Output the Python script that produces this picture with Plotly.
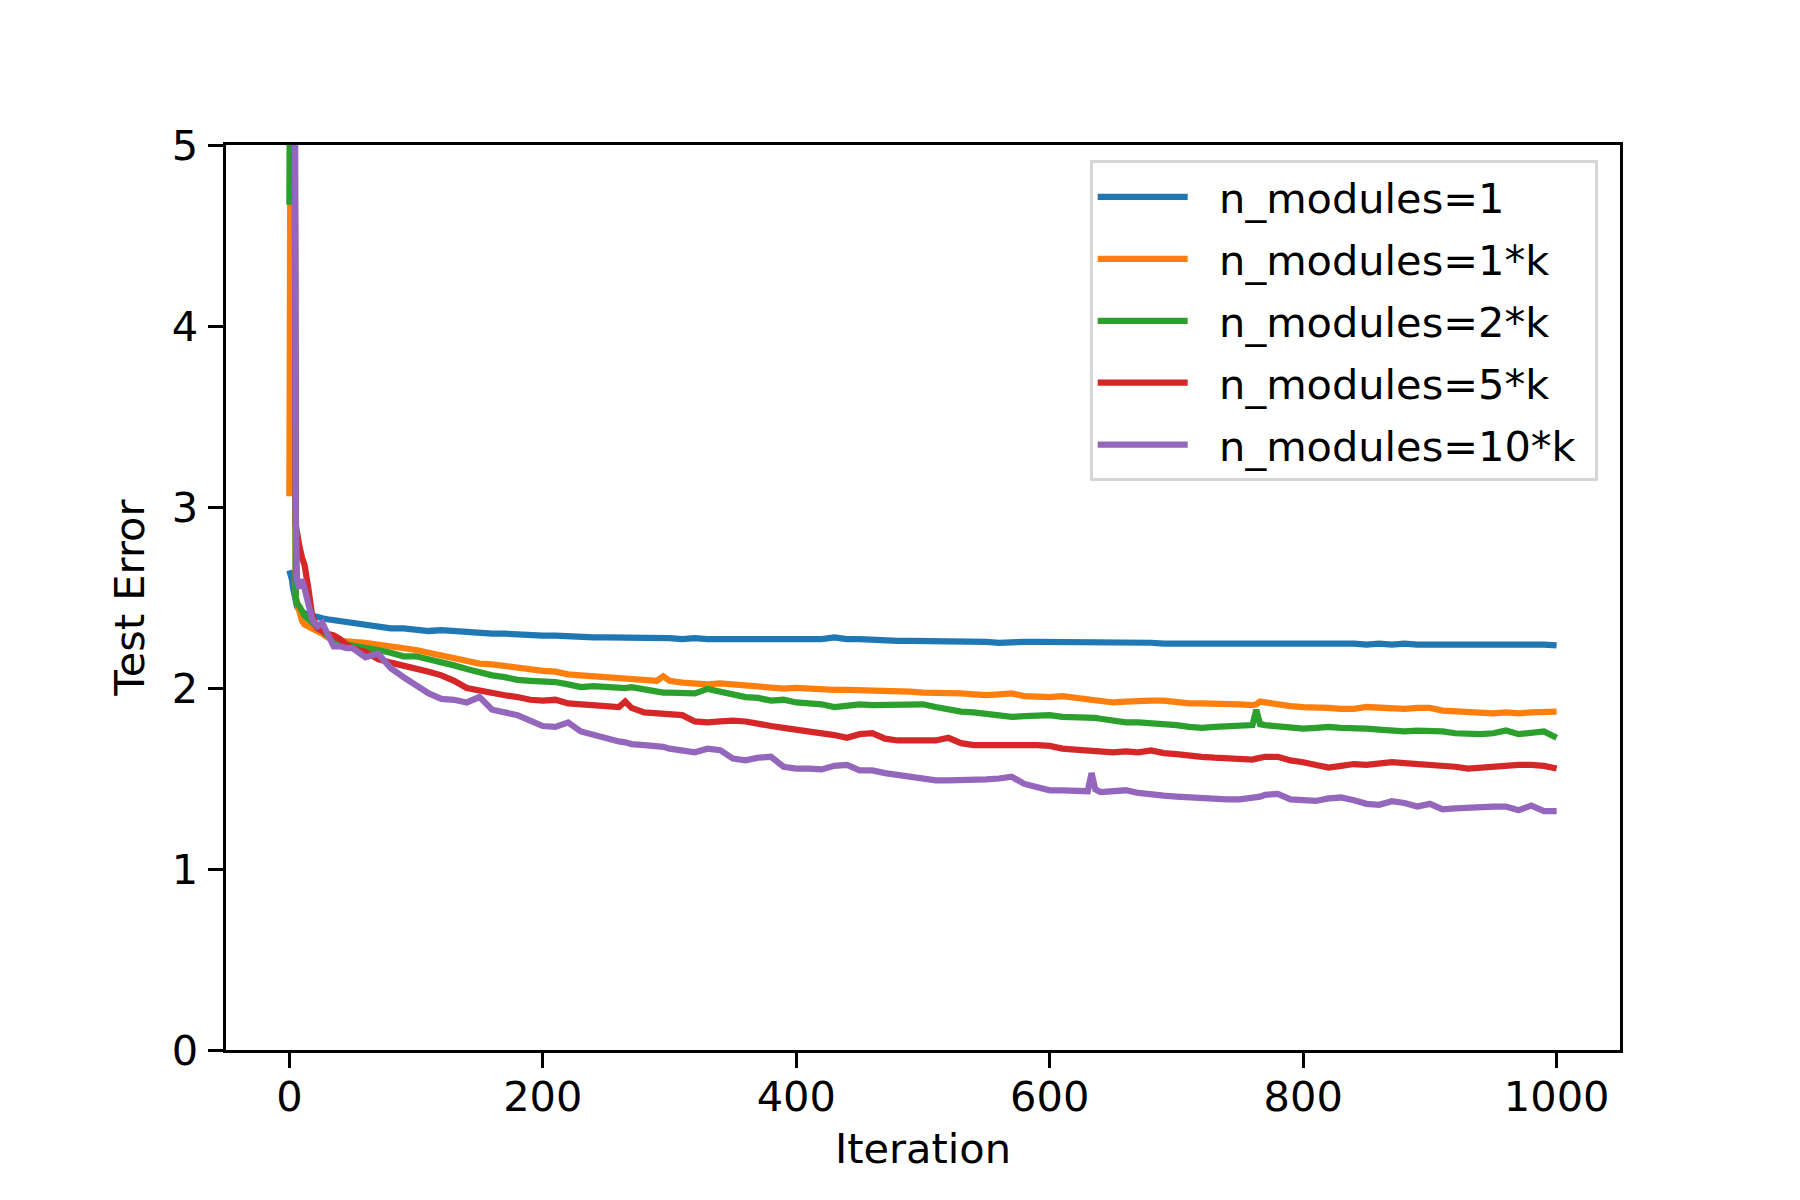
import plotly.graph_objects as go

iterations = [0, 1, 2, 3, 4, 5, 6, 8, 10, 12, 15, 18, 22, 26, 30, 35, 40, 45,
              50, 60, 70, 80, 90, 100, 110, 120, 130, 140, 150, 160, 170, 180, 190, 200, 210, 220, 230, 240, 250, 260, 265, 270, 280, 290, 295, 300,
              310, 320, 330, 340, 350, 360, 370, 380, 390, 400, 410, 420, 430, 440, 450, 460, 470, 480, 490, 500,
              510, 520, 530, 540, 550, 560, 570, 580, 590, 600, 610, 620, 630, 633, 636, 640, 650, 660, 670, 680, 690, 700,
              710, 720, 730, 740, 750, 760, 763, 766, 770, 780, 790, 800, 810, 820, 830, 840, 850, 860, 870, 880, 890, 900,
              910, 920, 930, 940, 950, 960, 970, 980, 990, 1000]

err_1 = [2.65, 2.63, 2.60, 2.55, 2.50, 2.47, 2.45, 2.43, 2.42, 2.41, 2.40, 2.40, 2.39, 2.385, 2.38, 2.375, 2.37, 2.36,
         2.355, 2.345, 2.335, 2.33, 2.33, 2.32, 2.315, 2.32, 2.315, 2.31, 2.30, 2.30, 2.30, 2.295, 2.29, 2.29, 2.29, 2.285, 2.28, 2.28, 2.28, 2.28, 2.28, 2.275, 2.28, 2.275, 2.275, 2.275,
         2.27, 2.275, 2.27, 2.27, 2.265, 2.27, 2.265, 2.265, 2.27, 2.27, 2.265, 2.27, 2.28, 2.27, 2.27, 2.265, 2.265, 2.26, 2.26, 2.26,
         2.255, 2.26, 2.255, 2.255, 2.255, 2.25, 2.255, 2.255, 2.255, 2.255, 2.25, 2.255, 2.25, 2.25, 2.25, 2.25, 2.25, 2.25, 2.25, 2.25, 2.245, 2.245,
         2.25, 2.245, 2.245, 2.25, 2.245, 2.245, 2.245, 2.245, 2.25, 2.245, 2.245, 2.245, 2.245, 2.245, 2.25, 2.245, 2.24, 2.245, 2.24, 2.245, 2.24, 2.24,
         2.24, 2.24, 2.24, 2.245, 2.24, 2.24, 2.24, 2.245, 2.24, 2.235]

err_1k = [3.06, 8.0, 8.0, 7.0, 6.0, 2.5, 2.47, 2.42, 2.37, 2.35, 2.34, 2.33, 2.32, 2.30, 2.28, 2.265, 2.26, 2.26,
          2.255, 2.25, 2.24, 2.235, 2.225, 2.21, 2.195, 2.18, 2.165, 2.15, 2.135, 2.13, 2.12, 2.11, 2.10, 2.095, 2.09, 2.075, 2.07, 2.065, 2.06, 2.05, 2.05, 2.05, 2.045, 2.04, 2.065, 2.04,
          2.03, 2.025, 2.02, 2.025, 2.02, 2.01, 2.005, 2.0, 1.997, 2.0, 1.995, 1.99, 1.99, 1.99, 1.988, 1.99, 1.985, 1.988, 1.98, 1.975,
          1.975, 1.97, 1.97, 1.965, 1.96, 1.965, 1.97, 1.955, 1.95, 1.95, 1.955, 1.945, 1.935, 1.935, 1.935, 1.93, 1.92, 1.925, 1.93, 1.93, 1.93, 1.92,
          1.915, 1.915, 1.915, 1.91, 1.91, 1.905, 1.91, 1.925, 1.92, 1.91, 1.90, 1.895, 1.895, 1.89, 1.885, 1.885, 1.895, 1.89, 1.885, 1.885, 1.89, 1.89,
          1.875, 1.87, 1.87, 1.865, 1.86, 1.865, 1.86, 1.865, 1.87, 1.87]

err_2k = [4.67, 8.0, 8.0, 7.0, 6.0, 2.5, 2.47, 2.45, 2.42, 2.40, 2.38, 2.36, 2.34, 2.31, 2.29, 2.27, 2.26, 2.24,
          2.235, 2.22, 2.21, 2.195, 2.175, 2.175, 2.16, 2.14, 2.125, 2.105, 2.085, 2.07, 2.06, 2.045, 2.04, 2.04, 2.033, 2.02, 2.005, 2.01, 2.005, 2.0, 2.0, 2.005, 1.99, 1.978, 1.975, 1.975,
          1.97, 1.97, 1.995, 1.98, 1.96, 1.95, 1.945, 1.93, 1.935, 1.92, 1.915, 1.91, 1.895, 1.905, 1.91, 1.905, 1.905, 1.905, 1.91, 1.91,
          1.895, 1.88, 1.87, 1.865, 1.855, 1.845, 1.84, 1.845, 1.85, 1.85, 1.84, 1.84, 1.835, 1.835, 1.835, 1.83, 1.82, 1.81, 1.81, 1.805, 1.805, 1.795,
          1.785, 1.78, 1.785, 1.79, 1.79, 1.795, 1.88, 1.80, 1.795, 1.79, 1.78, 1.775, 1.78, 1.785, 1.78, 1.78, 1.775, 1.77, 1.765, 1.76, 1.765, 1.765,
          1.76, 1.75, 1.745, 1.745, 1.75, 1.765, 1.745, 1.755, 1.76, 1.725]

err_5k = [6.0, 8.0, 9.0, 8.0, 6.5, 2.9, 2.85, 2.78, 2.72, 2.68, 2.55, 2.40, 2.33, 2.31, 2.30, 2.29, 2.27, 2.24,
          2.22, 2.20, 2.16, 2.14, 2.125, 2.105, 2.09, 2.07, 2.04, 2.0, 1.985, 1.97, 1.96, 1.95, 1.935, 1.93, 1.935, 1.915, 1.91, 1.90, 1.895, 1.895, 1.925, 1.89, 1.865, 1.86, 1.855, 1.855,
          1.85, 1.815, 1.81, 1.815, 1.82, 1.815, 1.80, 1.79, 1.78, 1.77, 1.765, 1.755, 1.74, 1.725, 1.745, 1.75, 1.72, 1.71, 1.71, 1.705,
          1.71, 1.725, 1.695, 1.685, 1.685, 1.69, 1.69, 1.685, 1.685, 1.68, 1.665, 1.66, 1.655, 1.655, 1.655, 1.65, 1.645, 1.65, 1.645, 1.655, 1.64, 1.635,
          1.625, 1.62, 1.615, 1.61, 1.605, 1.605, 1.61, 1.615, 1.62, 1.62, 1.60, 1.59, 1.575, 1.56, 1.57, 1.58, 1.575, 1.585, 1.59, 1.585, 1.58, 1.58,
          1.575, 1.565, 1.555, 1.56, 1.57, 1.57, 1.575, 1.575, 1.57, 1.555]

err_10k = [6.0, 8.0, 9.0, 8.0, 7.0, 3.0, 2.6, 2.55, 2.6, 2.55, 2.45, 2.38, 2.34, 2.36, 2.30, 2.23, 2.23, 2.22,
           2.22, 2.17, 2.19, 2.11, 2.06, 2.01, 1.97, 1.94, 1.935, 1.92, 1.95, 1.88, 1.865, 1.85, 1.82, 1.79, 1.785, 1.81, 1.76, 1.74, 1.72, 1.705, 1.70, 1.69, 1.685, 1.68, 1.675, 1.665,
           1.655, 1.645, 1.665, 1.656, 1.61, 1.60, 1.615, 1.62, 1.565, 1.555, 1.555, 1.55, 1.57, 1.575, 1.545, 1.545, 1.53, 1.52, 1.505, 1.495,
           1.49, 1.49, 1.49, 1.49, 1.495, 1.50, 1.51, 1.47, 1.45, 1.435, 1.435, 1.43, 1.43, 1.53, 1.44, 1.425, 1.43, 1.435, 1.42, 1.41, 1.405, 1.40,
           1.395, 1.395, 1.39, 1.385, 1.385, 1.39, 1.39, 1.40, 1.41, 1.415, 1.385, 1.38, 1.376, 1.39, 1.395, 1.38, 1.36, 1.355, 1.375, 1.365, 1.345, 1.36,
           1.33, 1.335, 1.34, 1.345, 1.345, 1.345, 1.325, 1.35, 1.32, 1.32]

series_names = ["n_modules=1", "n_modules=1*k", "n_modules=2*k", "n_modules=5*k", "n_modules=10*k"]
series_values = [err_1, err_1k, err_2k, err_5k, err_10k]
colors = ["#1f77b4", "#ff7f0e", "#2ca02c", "#d62728", "#9467bd"]

x_ticks = [0, 200, 400, 600, 800, 1000]
y_ticks = [0, 1, 2, 3, 4, 5]

FONT = "DejaVu Sans"
FS = 41.5
PAD = "\u00a0\u00a0"

fig = go.Figure()
for i, (name, vals, col) in enumerate(zip(series_names, series_values, colors)):
    fig.add_trace(go.Scatter(x=iterations, y=vals, mode="lines", name=PAD + name + "\u00a0",
                             legendgroup=f"g{i}",
                             line=dict(color=col, width=6.25)))

axis_common = dict(showline=True, linecolor="black", linewidth=3.3, mirror=True,
                   ticks="outside", ticklen=14.5, tickwidth=3.3, tickcolor="black",
                   showgrid=False, zeroline=False,
                   tickfont=dict(family=FONT, size=FS, color="black"))

fig.update_xaxes(range=[-50, 1050], tickvals=x_ticks, ticklabelstandoff=-6,
                 title=dict(text="Iteration", font=dict(family=FONT, size=FS, color="black"), standoff=14),
                 **axis_common)
fig.update_yaxes(range=[0, 5], tickvals=y_ticks, ticklabelstandoff=2,
                 title=dict(text="Test Error", font=dict(family=FONT, size=FS, color="black"), standoff=15),
                 **axis_common)

fig.update_layout(
    width=1800, height=1200,
    margin=dict(l=218, r=188, t=137, b=158),
    plot_bgcolor="white", paper_bgcolor="white",
    font=dict(family=FONT, size=FS, color="black"),
    legend=dict(x=0.984, y=0.983, xanchor="right", yanchor="top",
                bgcolor="rgba(255,255,255,0.8)", bordercolor="#d6d6d6", borderwidth=3,
                font=dict(family=FONT, size=FS, color="black"),
                itemwidth=90, tracegroupgap=5),
    showlegend=True,
)

fig.write_html("out.html")
